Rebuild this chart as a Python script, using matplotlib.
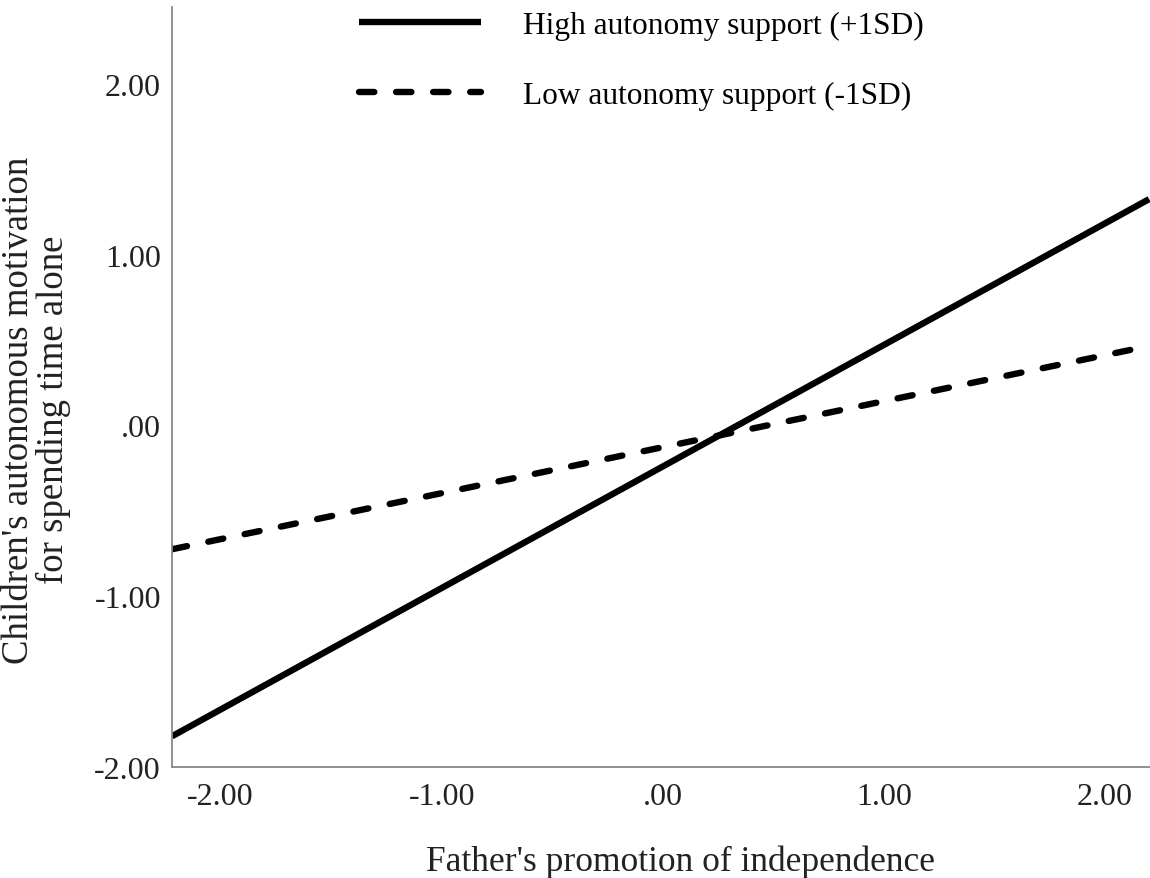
import matplotlib
matplotlib.use("Agg")
import matplotlib.pyplot as plt

# Simple slopes (line end points at the axis edges)
x_vals = [-2.22, 2.20]
high_support = [-1.82, 1.325]   # High autonomy support (+1SD)
low_support = [-0.725, 0.465]   # Low autonomy support (-1SD)

x_ticks = [-2, -1, 0, 1, 2]
x_tick_labels = ["-2.00", "-1.00", ".00", "1.00", "2.00"]
y_ticks = [-2, -1, 0, 1, 2]
y_tick_labels = ["-2.00", "-1.00", ".00", "1.00", "2.00"]

plt.rcParams["font.family"] = ["Liberation Serif", "DejaVu Serif"]

fig = plt.figure(figsize=(11.5, 8.79), dpi=100)
ax = fig.add_axes([172 / 1150, 1 - 768 / 879, 1 - 172 / 1150, 760 / 879])

ax.plot(x_vals, high_support, color="black", lw=4.6, solid_capstyle="butt",
        label="High autonomy support (+1SD)")
ax.plot(x_vals, low_support, color="black", lw=4.6, dashes=(2.4, 3.4),
        dash_capstyle="round", label="Low autonomy support (-1SD)")

ax.set_xlim(-2.22, 2.204)
ax.set_ylim(-2.0, 2.45)
ax.set_xticks(x_ticks)
ax.set_xticklabels(x_tick_labels)
ax.set_yticks(y_ticks)
ax.set_yticklabels(y_tick_labels)
ax.tick_params(axis="both", length=0, labelsize=23, colors="#222222")
ax.tick_params(axis="x", pad=11)
ax.tick_params(axis="y", pad=8)

for side in ["top", "right"]:
    ax.spines[side].set_visible(False)
for side in ["left", "bottom"]:
    ax.spines[side].set_color("#888888")
    ax.spines[side].set_linewidth(1.3)

# legend at the top of the plot
leg = ax.legend(loc="upper left", bbox_to_anchor=(174 / 978, 1.011), frameon=False,
                fontsize=22.6, handlelength=3.9, handletextpad=1.35, labelspacing=1.3,
                borderaxespad=0)

# axis titles
fig.text(36 / 1150, 1 - 410 / 879, "Children's autonomous motivation\nfor spending time alone",
         rotation=90, ha="center", va="center", fontsize=26.5, color="#222222",
         linespacing=1.0, multialignment="center")
fig.text(681 / 1150, 1 - 871 / 879, "Father's promotion of independence",
         ha="center", va="baseline", fontsize=25.5, color="#222222")

fig.savefig("out.png", dpi=100)
